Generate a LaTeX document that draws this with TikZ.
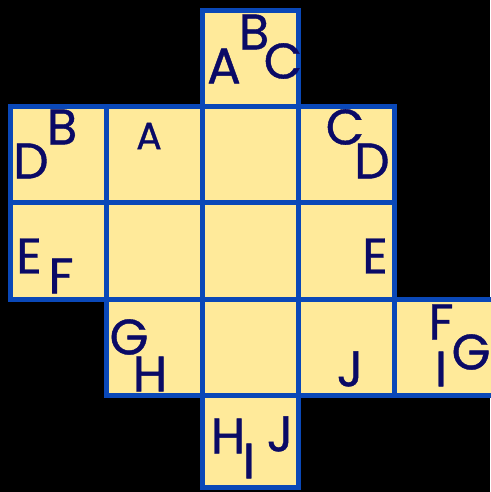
\documentclass[tikz,border=0pt]{standalone}
\usepackage{fontspec}
\setmainfont{Poppins}[FakeBold=0.8]
\definecolor{paper}{HTML}{FFEA9A}
\definecolor{edge}{HTML}{0A48B8}
\definecolor{ink}{HTML}{0A0A66}
\tikzset{cell/.style={draw=edge,fill=paper,line width=5pt,line join=miter},letter/.style={text=ink,inner sep=0pt,font=\fontsize{50}{50}\selectfont},small/.style={letter,font=\fontsize{38}{38}\selectfont}}

\begin{document}
\begin{tikzpicture}[x=1pt,y=-1pt]
\fill[black] (0,0) rectangle (490,492);
\useasboundingbox (0,0) rectangle (490,492);
% cells of the net, corner to corner
\foreach \xa/\ya/\xb/\yb in {202.5/11/298.5/106.5,
  10.5/106.5/106.5/202.5,106.5/106.5/202.5/202.5,202.5/106.5/298.5/202.5,298.5/106.5/394.5/202.5,
  10.5/202.5/106.5/299,106.5/202.5/202.5/299,202.5/202.5/298.5/299,298.5/202.5/394.5/299,
  106.5/299/202.5/395,202.5/299/298.5/395,298.5/299/394.5/395,394.5/299/496/395,
  202.5/395/298.5/487}{
  \draw[cell] (\xa,\ya) rectangle (\xb,\yb);
}
% letters on the faces
\foreach \n/\x/\y/\t in {tA/224/66/A,tB/254/32/B,tC/283/61/C,
  lD/31/161/D,lB/62/127/B,rC/345/127/C,rD/372/161/D,
  lE/29/256/E,lF/61/276/F,rE/375/256/E,
  gG/129/337/G,gH/150/374/H,jJ/350/369/J,
  fF/441/322/F,fI/441/369/I,fG/471/352/G,
  bH/228/436/H,bI/249/461/I,bJ/280/434/J}{
  \node[letter] (\n) at (\x,\y) {\t};
}
\node[small] (mA) at (149,136) {A};
\end{tikzpicture}
\end{document}
